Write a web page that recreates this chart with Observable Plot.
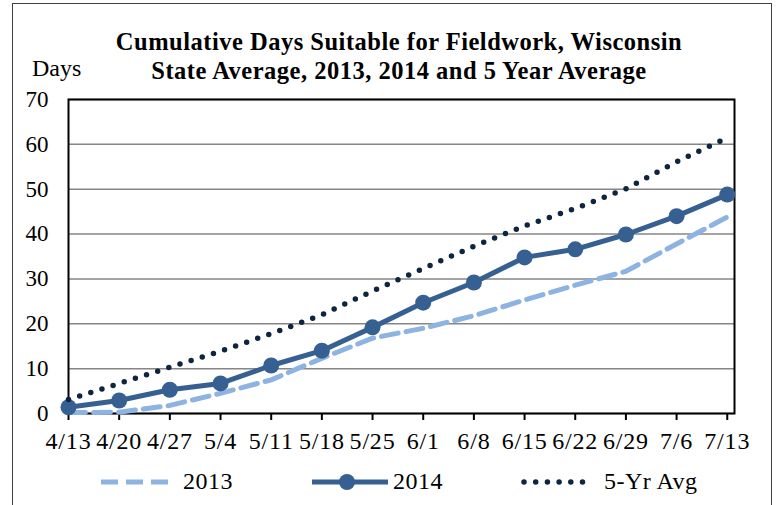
<!DOCTYPE html>
<html><head><meta charset="utf-8">
<script src="https://cdn.jsdelivr.net/npm/d3@7"></script>
<script src="https://cdn.jsdelivr.net/npm/@observablehq/plot@0.6"></script>
<style>
body{margin:0;background:#fff;}
#wrap{position:relative;width:778px;height:505px;overflow:hidden;font-family:"Liberation Serif","Times New Roman",serif;color:#000;}
#border{position:absolute;left:12px;top:3px;width:758px;height:540px;border:1.5px solid #404040;}
#chart{position:absolute;left:0;top:0;}
#title{position:absolute;left:49px;width:700px;top:27px;text-align:center;font-weight:bold;font-size:24.5px;letter-spacing:0.5px;line-height:29px;white-space:nowrap;}
#ylab{position:absolute;left:32px;top:54px;font-size:24px;line-height:29px;}
.leg{position:absolute;font-size:24px;letter-spacing:0.5px;line-height:29px;top:467px;}
.sw{position:absolute;top:472px;}
</style>
</head><body>
<div id="wrap">
  <div id="border"></div>
  <div id="chart"></div>
  <div id="title">Cumulative Days Suitable for Fieldwork, Wisconsin<br>State Average, 2013, 2014 and 5 Year Average</div>
  <div id="ylab">Days</div>
  <svg class="sw" style="left:98px" width="74" height="20"><line x1="3" y1="10" x2="72" y2="10" stroke="#8DB3E2" stroke-width="5" stroke-dasharray="17,8"/></svg>
  <div class="leg" style="left:183px">2013</div>
  <svg class="sw" style="left:310px" width="80" height="20"><line x1="2" y1="10" x2="78" y2="10" stroke="#376092" stroke-width="5"/><circle cx="37" cy="10" r="8" fill="#376092"/></svg>
  <div class="leg" style="left:393px">2014</div>
  <svg class="sw" style="left:518px" width="76" height="20"><line x1="6" y1="10" x2="72" y2="10" stroke="#0F243E" stroke-width="5.5" stroke-linecap="round" stroke-dasharray="0,11.7"/></svg>
  <div class="leg" style="left:604px">5-Yr Avg</div>
</div>
<script>
const weeks = ["4/13","4/20","4/27","5/4","5/11","5/18","5/25","6/1","6/8","6/15","6/22","6/29","7/6","7/13"];
const days2013 = [0.2, 0.3, 1.8, 4.5, 7.5, 12.3, 16.8, 19.0, 21.8, 25.3, 28.6, 31.7, 37.8, 43.8];
const days2014 = [1.4, 2.9, 5.3, 6.7, 10.7, 14.0, 19.2, 24.7, 29.2, 34.8, 36.6, 39.9, 44.0, 48.8];
const daysAvg  = [3.1, 6.7, 10.3, 13.9, 17.8, 22.0, 27.3, 32.3, 37.3, 41.8, 45.7, 50.1, 56.1, 61.5];
const yTicks = [0, 10, 20, 30, 40, 50, 60, 70];

const toDate = s => { const [m, d] = s.split("/").map(Number); return new Date(Date.UTC(2014, m - 1, d)); };
const dates = weeks.map(toDate);
const labelOf = new Map(weeks.map((w, i) => [+dates[i], w]));
const rows = weeks.map((w, i) => ({date: dates[i], v2013: days2013[i], v2014: days2014[i], avg: daysAvg[i]}));

const chart = Plot.plot({
  width: 778, height: 505,
  marginLeft: 68, marginRight: 44, marginTop: 99, marginBottom: 92,
  style: {fontFamily: "Liberation Serif, Times New Roman, serif", fontSize: "23px", color: "#000", background: "transparent", overflow: "visible"},
  x: {type: "utc", domain: [dates[0], new Date(Date.UTC(2014, 6, 14))]},
  y: {domain: [0, 70]},
  marks: [
    Plot.gridY(yTicks, {stroke: "#868686", strokeOpacity: 1, strokeWidth: 1.5}),
    Plot.axisY(yTicks, {tickSize: 0, tickPadding: 20, fontSize: 23, label: null}),
    Plot.axisX(dates, {tickSize: 7, tickPadding: 11, fontSize: 24, label: null, stroke: "#000", strokeWidth: 2, tickFormat: d => labelOf.get(+d)}),
    Plot.frame({stroke: "#000", strokeWidth: 2}),
    Plot.line(rows, {x: "date", y: "v2013", stroke: "#8DB3E2", strokeWidth: 5, strokeDasharray: "17,8"}),
    Plot.line(rows, {x: "date", y: "v2014", stroke: "#376092", strokeWidth: 5}),
    Plot.dot(rows, {x: "date", y: "v2014", r: 8, fill: "#376092", stroke: null}),
    Plot.line(rows, {x: "date", y: "avg", stroke: "#0F243E", strokeWidth: 5.5, strokeLinecap: "round", strokeDasharray: "0,11.7"})
  ]
});
chart.querySelectorAll("g[aria-label='x-axis tick label'] text").forEach(t => t.setAttribute("letter-spacing", "0.8"));
document.getElementById("chart").appendChild(chart);
</script>
</body></html>
